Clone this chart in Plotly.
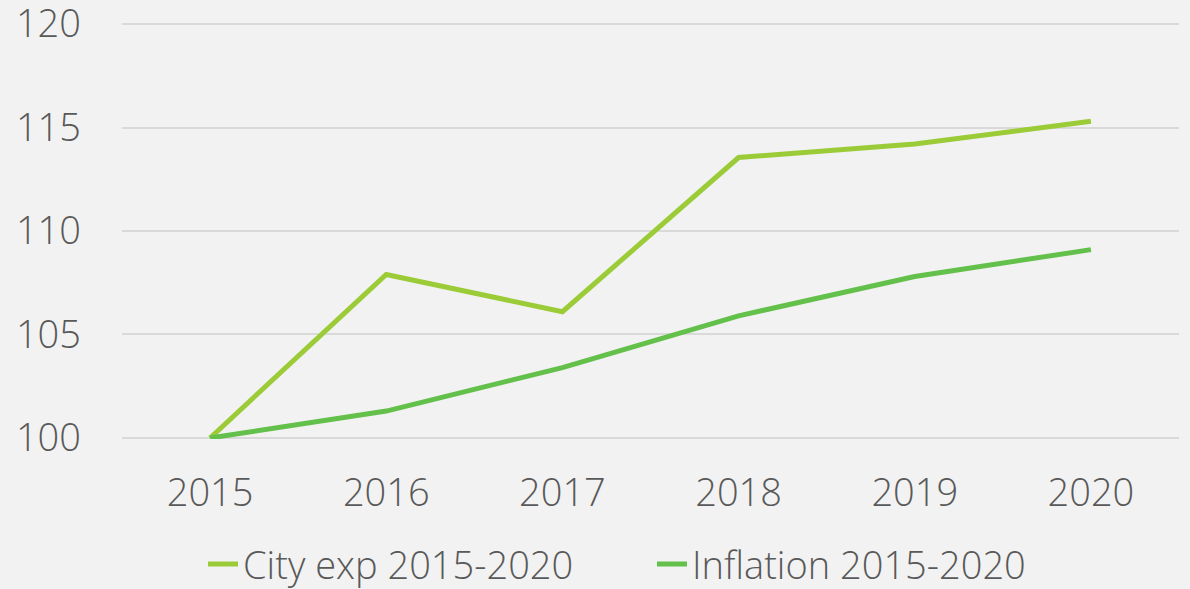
import plotly.graph_objects as go

years = ["2015", "2016", "2017", "2018", "2019", "2020"]
city_exp = [100, 107.9, 106.1, 113.55, 114.2, 115.3]
inflation = [100, 101.3, 103.4, 105.9, 107.8, 109.1]
series_names = ["City exp 2015-2020", "Inflation 2015-2020"]
y_ticks = [100, 105, 110, 115, 120]

FONT = "Open Sans"
TXT = "#595959"
FS = 38

fig = go.Figure()
fig.add_trace(go.Scatter(x=years, y=city_exp, mode="lines", name=series_names[0],
                         line=dict(color="#9BCB37", width=5)))
fig.add_trace(go.Scatter(x=years, y=inflation, mode="lines", name=series_names[1],
                         line=dict(color="#63C04A", width=5)))

fig.update_layout(
    width=1190, height=589,
    paper_bgcolor="#F2F2F2", plot_bgcolor="#F2F2F2",
    margin=dict(l=122, r=11, t=23, b=150, pad=0, autoexpand=False),
    font=dict(family=FONT, color=TXT, size=FS),
    showlegend=True,
    legend=dict(orientation="h", xref="container", x=203 / 1190, xanchor="left",
                yref="container", y=0.042, yanchor="middle",
                font=dict(family=FONT, size=FS, color=TXT, weight=300),
                bgcolor="rgba(0,0,0,0)", itemwidth=30, entrywidth=404),
    xaxis=dict(type="category", range=[-0.5, 5.5], showgrid=False, zeroline=False,
               showline=False, ticks="", ticklabelstandoff=28, automargin=False,
               tickfont=dict(family=FONT, size=FS, color=TXT, weight=300)),
    yaxis=dict(range=[99.95, 120.05], tickvals=y_ticks, showgrid=True, gridcolor="#D9D9D9",
               gridwidth=1.5, zeroline=False, showline=False, ticks="",
               ticklabelstandoff=40, ticklabeloverflow="allow", automargin=False,
               tickfont=dict(family=FONT, size=FS, color=TXT, weight=300)),
)

fig.write_html("out.html", config={"displayModeBar": False},
               post_script="document.body.style.margin='0';document.body.style.overflow='hidden';")
